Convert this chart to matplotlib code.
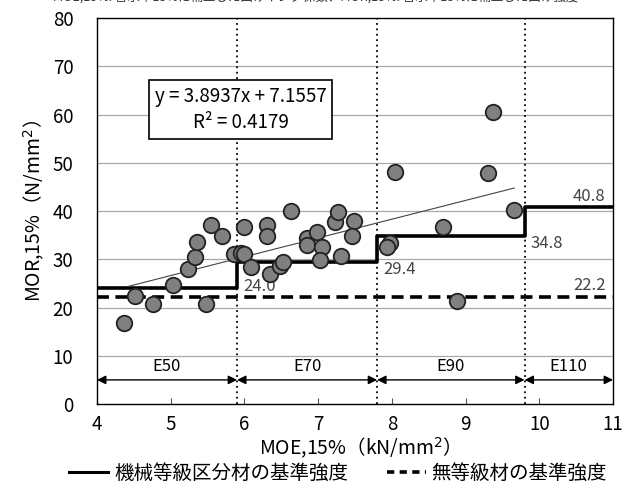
import matplotlib
matplotlib.use("Agg")
import matplotlib.pyplot as plt
import numpy as np
from matplotlib.lines import Line2D

plt.rcParams['font.family'] = ['Noto Sans CJK JP', 'DejaVu Sans']

# Data (MOE kN/mm2, MOR N/mm2)
moe = [4.37, 4.52, 4.76, 5.03, 5.24, 5.33, 5.36, 5.54, 5.69, 5.48, 5.86, 5.96, 5.99,
       6.00, 6.09, 6.30, 6.31, 6.34, 6.48, 6.52, 6.63, 6.85, 6.85, 6.98, 7.05, 7.03,
       7.23, 7.27, 7.31, 7.48, 7.46, 8.04, 9.30, 9.66, 8.69, 7.97, 7.93, 8.88, 9.37]
mor = [16.8, 22.4, 20.8, 24.6, 28.0, 30.4, 33.6, 37.0, 34.8, 20.8, 31.1, 31.2, 36.7,
       31.0, 28.4, 37.1, 34.8, 26.9, 28.6, 29.4, 40.0, 34.5, 33.0, 35.7, 32.6, 29.8,
       37.7, 39.7, 30.7, 37.9, 34.8, 48.1, 47.8, 40.3, 36.7, 33.4, 32.6, 21.3, 60.5]

slope, intercept = 3.8937, 7.1557
trend_x = [4.42, 9.66]

grade_bounds = [4.0, 5.9, 7.8, 9.8, 11.0]
grade_names = ['E50', 'E70', 'E90', 'E110']
grade_strength = [24.0, 29.4, 34.8, 40.8]
ungraded_strength = 22.2

fig = plt.figure(figsize=(6.32, 4.95), dpi=100)
ax = fig.add_axes([0.1535, 0.1838, 0.8165, 0.7798])
ax.set_xlim(4, 11)
ax.set_ylim(0, 80)
ax.set_yticks(range(0, 81, 10))
ax.set_xticks(range(4, 12))
for y in range(10, 80, 10):
    ax.axhline(y, color='#a8a8a8', lw=0.9, zorder=0)
for s in ax.spines.values():
    s.set_color('black'); s.set_linewidth(1.0)
ax.tick_params(axis='x', direction='in', length=4, labelsize=13.5, pad=7, color='#555555')
ax.tick_params(axis='y', length=0, labelsize=13.5, pad=17)

# vertical grade boundaries
for b in grade_bounds[1:4]:
    ax.axvline(b, color='black', ls=(0, (1, 2)), lw=1.3, zorder=1)

# step line
sx, sy = [], []
for i, v in enumerate(grade_strength):
    sx += [grade_bounds[i], grade_bounds[i + 1]]
    sy += [v, v]
ax.plot(sx, sy, color='black', lw=2.6, zorder=3)
ax.axhline(ungraded_strength, color='black', lw=2.6, ls=(0, (3.3, 1.8)), zorder=3)

# trend line
tx = np.array(trend_x)
ax.plot(tx, slope * tx + intercept, color='#444444', lw=0.8, zorder=4)

ax.scatter(moe, mor, s=125, facecolor='#808080', edgecolor='#222222', lw=1.3, zorder=5)

# labels of step values
lab = dict(fontsize=12, color='#444444', va='center')
ax.text(5.98, 24.3, '24.0', ha='left', **lab)
ax.text(7.88, 27.9, '29.4', ha='left', **lab)
ax.text(9.88, 33.3, '34.8', ha='left', **lab)
ax.text(10.9, 43.1, '40.8', ha='right', **lab)
ax.text(10.9, 24.6, '22.2', ha='right', **lab)

# grade arrows
for i, name in enumerate(grade_names):
    x0, x1 = grade_bounds[i], grade_bounds[i + 1]
    ax.annotate('', xy=(x0, 5.0), xytext=(x1, 5.0),
                arrowprops=dict(arrowstyle='<|-|>', color='black', lw=1.0,
                                mutation_scale=13, shrinkA=0, shrinkB=0))
    ax.text((x0 + x1) / 2, 7.8, name, ha='center', va='center', fontsize=12)

# equation box
ax.text(5.95, 61.0, 'y = 3.8937x + 7.1557\nR² = 0.4179', ha='center', va='center',
        fontsize=13.5, linespacing=1.35,
        bbox=dict(boxstyle='square,pad=0.3', fc='white', ec='black', lw=1.2), zorder=6)

ax.set_xlabel('MOE,15%（kN/mm$^2$）', fontsize=14, labelpad=1)
ax.set_ylabel('MOR,15%（N/mm$^2$）', fontsize=14, labelpad=4)

handles = [Line2D([], [], color='black', lw=2.2),
           Line2D([], [], color='black', lw=2.6, ls=(0, (2, 1.5)))]
fig.legend(handles, ['機械等級区分材の基準強度', '無等級材の基準強度'], loc='lower center',
           bbox_to_anchor=(0.535, -0.012), ncol=2, frameon=False, fontsize=14,
           handlelength=2.0, handletextpad=0.3, columnspacing=2.0)

fig.text(0.5, 1.003, 'MOE,15%: 含水率15%に補正した曲げヤング係数、MOR,15%: 含水率15%に補正した曲げ強度',
         ha='center', va='center', fontsize=9, color='#333333')

fig.savefig('out.png', dpi=100)
